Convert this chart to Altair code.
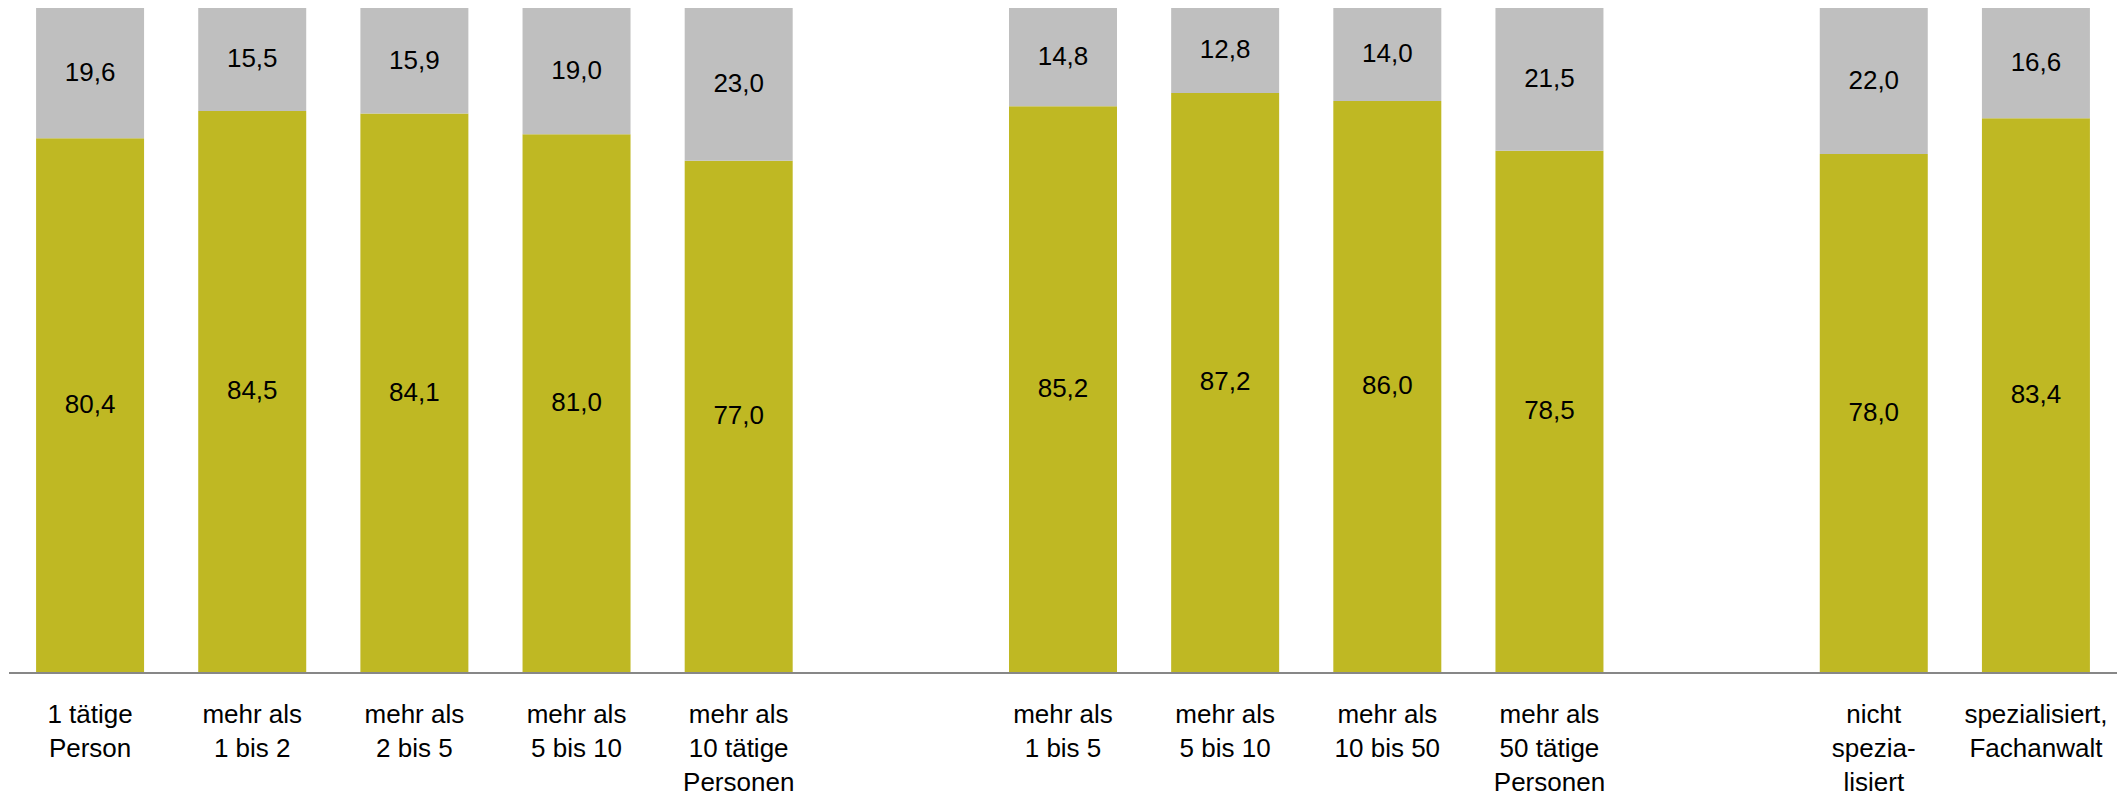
import altair as alt
import pandas as pd

# ---- data ----
labels = [
    "1 tätige|Person", "mehr als|1 bis 2", "mehr als|2 bis 5", "mehr als|5 bis 10",
    "mehr als|10 tätige|Personen", "",
    "mehr als|1 bis 5", "mehr als|5 bis 10", "mehr als|10 bis 50", "mehr als|50 tätige|Personen", "",
    "nicht|spezia-|lisiert", "spezialisiert,|Fachanwalt",
]
green_vals = [80.4, 84.5, 84.1, 81.0, 77.0, None, 85.2, 87.2, 86.0, 78.5, None, 78.0, 83.4]
grey_vals = [19.6, 15.5, 15.9, 19.0, 23.0, None, 14.8, 12.8, 14.0, 21.5, None, 22.0, 16.6]

series_names = ["Anteil 1", "Anteil 2"]
colors = ["#BFB823", "#BFBFBF"]

rows = []
for i, (g, r) in enumerate(zip(green_vals, grey_vals)):
    if g is None:
        continue
    rows.append({"slot": i, "series": series_names[0], "order": 0, "value": g})
    rows.append({"slot": i, "series": series_names[1], "order": 1, "value": r})
df = pd.DataFrame(rows)

lab_df = pd.DataFrame([{"slot": i, "label": l} for i, l in enumerate(labels) if l])

W, H = 2108, 664
FONT = "Liberation Sans, Arial, Helvetica, sans-serif"

xscale = alt.Scale(domain=list(range(len(labels))), paddingInner=0.334, paddingOuter=0.167)
yscale = alt.Scale(domain=[0, 100])

bars = alt.Chart(df).mark_bar().encode(
    x=alt.X("slot:O", scale=xscale, axis=None),
    y=alt.Y("value:Q", stack="zero", scale=yscale, axis=None),
    color=alt.Color("series:N", scale=alt.Scale(domain=series_names, range=colors), legend=None),
    order=alt.Order("order:Q"),
)

values_text = alt.Chart(df).transform_stack(
    stack="value", as_=["v0", "v1"], groupby=["slot"], sort=[alt.SortField("order")]
).transform_calculate(
    mid="(datum.v0 + datum.v1) / 2",
    txt="replace(format(datum.value, '.1f'), '.', ',')",
).mark_text(font=FONT, fontSize=26, color="#000000", baseline="middle").encode(
    x=alt.X("slot:O", scale=xscale, axis=None),
    y=alt.Y("mid:Q", scale=yscale, axis=None),
    text="txt:N",
)

axis_line = alt.Chart(lab_df).mark_rule(color="#878787", strokeWidth=2).encode(
    x=alt.value(0), x2=alt.value(W), y=alt.value(H + 1)
)

cat_text = alt.Chart(lab_df).mark_text(
    font=FONT, fontSize=26, color="#000000", baseline="top", align="center",
    lineBreak="|", lineHeight=34,
).encode(
    x=alt.X("slot:O", scale=xscale, axis=None),
    y=alt.value(H + 30),
    text="label:N",
)

chart = alt.layer(bars, values_text, axis_line, cat_text).properties(
    width=W, height=H, padding=0
).configure_view(stroke=None)

chart.save("out.html", embed_options={"renderer": "svg", "actions": False})
